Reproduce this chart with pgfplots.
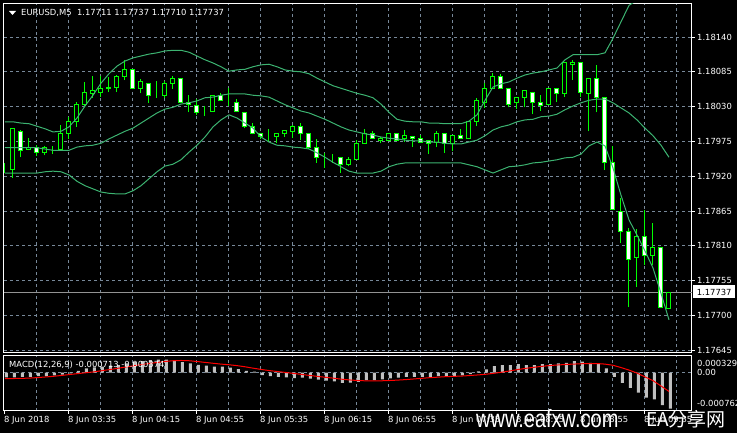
\documentclass[border=0pt]{standalone}
\usepackage{pgfplots}
\pgfplotsset{compat=1.18}
\usepackage{pgfplotstable}
\usepackage{fontspec}
\setmainfont{DejaVu Sans}
\newfontfamily\wmfont{Liberation Sans}
\newfontfamily\cjk{Noto Sans CJK SC}
\definecolor{mtlime}{HTML}{00FF00}
\definecolor{mtbb}{HTML}{3CB371}
\definecolor{mtgrid}{HTML}{778899}
\definecolor{mtsilver}{HTML}{C0C0C0}
\newcommand\lbl{\fontsize{8.4}{10}\selectfont}

% prices in points above 1.17600 (1 point = 0.00001)
\pgfplotstableread{
k O H L C
0 333 341 325 333
1 331 396 317 395
2 391 393 350 361
3 363 380 361 366
4 366 369 352 357
5 358 368 353 365
6 363 368 355 363
7 363 401 361 387
8 387 414 379 406
9 407 437 398 434
10 434 469 429 453
11 450 478 444 455
12 453 478 445 459
13 458 477 453 461
14 461 480 453 477
15 477 504 472 489
16 489 490 458 458
17 458 474 451 469
18 467 467 436 448
19 448 470 444 448
20 448 470 444 467
21 467 478 458 474
22 474 474 437 437
23 437 448 421 433
24 431 442 417 421
25 425 431 415 425
26 423 447 423 447
27 448 451 439 439
28 439 459 431 439
29 437 442 423 423
30 420 421 396 398
31 398 404 387 388
32 387 388 379 382
33 382 395 374 382
34 382 387 372 387
35 387 393 382 393
36 391 401 380 398
37 398 404 377 388
38 387 388 363 365
39 365 379 341 350
40 352 357 333 352
41 353 355 341 353
42 350 350 325 338
43 338 350 336 347
44 347 377 347 372
45 372 395 372 388
46 388 391 379 379
47 376 382 372 380
48 377 388 377 388
49 387 388 377 377
50 379 393 374 384
51 382 382 366 379
52 379 385 374 374
53 377 377 355 372
54 374 391 366 388
55 387 387 357 372
56 372 385 360 385
57 385 395 379 379
58 379 407 379 407
59 406 444 399 439
60 437 467 428 458
61 459 483 459 477
62 477 482 458 458
63 458 458 429 434
64 436 444 426 444
65 444 455 429 455
66 453 453 418 437
67 437 448 423 431
68 434 459 434 459
69 459 459 437 450
70 450 499 445 499
71 497 504 472 500
72 499 499 445 453
73 451 474 391 474
74 475 496 421 444
75 444 444 330 341
76 342 368 267 268
77 265 286 214 233
78 232 238 113 189
79 191 237 145 224
80 224 267 180 194
81 194 246 180 207
82 208 208 112 112
83 111 137 110 137
}\candles

\pgfplotstableread{
k U M L
0 406 365 325
1 406 365 325
2 404 365 325
3 403 365 325
4 399 365 325
5 395 363 327
6 390 361 328
7 391 361 327
8 398 361 322
9 412 366 312
10 431 368 305
11 448 369 300
12 467 372 295
13 482 379 293
14 494 385 292
15 502 391 292
16 507 396 297
17 510 404 305
18 513 412 316
19 515 420 327
20 518 426 336
21 519 429 339
22 519 434 346
23 516 436 358
24 510 439 369
25 504 444 382
26 499 445 398
27 493 448 409
28 486 450 417
29 488 450 412
30 489 450 404
31 493 448 396
32 496 447 382
33 497 445 374
34 493 439 369
35 488 433 368
36 486 428 366
37 485 423 365
38 482 420 363
39 475 415 357
40 469 410 350
41 463 404 342
42 459 398 335
43 455 393 328
44 451 390 325
45 448 387 325
46 444 385 325
47 434 382 328
48 421 380 335
49 410 379 339
50 407 377 341
51 406 376 341
52 406 376 341
53 404 374 341
54 404 374 341
55 403 372 341
56 403 371 341
57 403 371 341
58 407 374 338
59 417 377 335
60 440 384 330
61 461 393 325
62 466 398 330
63 469 401 335
64 475 406 336
65 480 409 338
66 483 410 341
67 485 414 342
68 488 415 344
69 491 418 346
70 504 425 349
71 512 431 350
72 512 436 355
73 512 440 368
74 512 442 374
75 515 442 368
76 538 436 333
77 564 428 290
78 590 420 251
79 598 409 227
80 606 396 202
81 611 384 175
82 617 369 135
83 622 350 93
}\bands

% MACD in units of 0.000001
\pgfplotstableread{
k H S
0 -96 -120
1 -96 -118
2 -83 -115
3 -83 -110
4 -69 -100
5 -69 -88
6 -56 -75
7 -43 -58
8 -17 -40
9 36 -22
10 83 -5
11 102 12
12 116 35
13 136 58
14 149 82
15 185 108
16 205 132
17 225 158
18 245 180
19 255 200
20 255 220
21 240 235
22 208 240
23 182 235
24 155 220
25 136 202
26 116 185
27 116 168
28 96 155
29 69 138
30 36 115
31 17 88
32 -50 63
33 -69 40
34 -83 22
35 -96 4
36 -109 -15
37 -102 -35
38 -122 -55
39 -142 -75
40 -162 -92
41 -175 -110
42 -202 -130
43 -200 -145
44 -182 -157
45 -149 -163
46 -149 -165
47 -136 -163
48 -116 -158
49 -102 -150
50 -83 -140
51 -83 -128
52 -83 -115
53 -83 -102
54 -69 -92
55 -69 -82
56 -69 -75
57 -56 -70
58 -30 -60
59 23 -48
60 63 -35
61 129 -17
62 149 5
63 149 30
64 169 58
65 149 82
66 149 102
67 169 122
68 169 138
69 182 150
70 195 160
71 228 168
72 215 175
73 195 180
74 182 180
75 83 168
76 -83 145
77 -202 100
78 -301 50
79 -400 -10
80 -499 -85
81 -532 -160
82 -645 -265
83 -713 -374
}\macd

\pgfplotsset{
  mtbase/.style={scale only axis, anchor=south west, width=688pt,
    xmin=-0.125, xmax=85.875},
  mtmain/.style={mtbase, at={(4pt,80pt)}, height=349pt, ymin=40.6, ymax=592.2},
}

\begin{document}
\begin{tikzpicture}[x=1pt,y=1pt]
\fill[black] (0,0) rectangle (737,433);
\useasboundingbox (0,0) rectangle (737,433);

% ---- main price window: frame, grid, ticks, wicks
\begin{axis}[mtmain,
  axis line style={white, line width=1pt},
  xtick={4,8,...,84}, xticklabels={}, xmajorgrids,
  x tick style={draw=none},
  ytick={45,100,...,540},
  yticklabels={1.17645,1.17700,1.17755,1.17810,1.17865,1.17920,1.17975,1.18030,1.18085,1.18140},
  ytick pos=right, yticklabel pos=right, ymajorgrids,
  y tick style={white, line width=0.8pt}, tick align=outside, major tick length=3pt,
  y tick label style={font=\lbl, text=white, anchor=west, inner sep=0pt, xshift=2pt},
  grid style={mtgrid, dash pattern=on 3pt off 3pt, line width=1pt},
  clip mode=individual,
]
\addplot[color=gray!85, line width=1pt, forget plot] coordinates {(-0.125,137) (85.875,137)};
\addplot[draw=none, mark=none, forget plot,
  error bars/.cd, y dir=plus, y explicit, error mark=none,
  error bar style={draw=mtlime, line width=1pt, solid}]
  table[x=k, y=L, y error expr={\thisrow{H}-\thisrow{L}}] {\candles};
\end{axis}

% ---- candle bodies
\begin{axis}[mtmain, hide axis, ybar stacked, bar width=0.5]
\addplot[draw=none, fill=none] table[x=k, y expr={min(\thisrow{O},\thisrow{C})}] {\candles};
\addplot[draw=mtlime, fill=white, line width=1pt] table[x=k, y expr={max(\thisrow{O}-\thisrow{C},0)}] {\candles};
\addplot[draw=mtlime, fill=black, line width=1pt] table[x=k, y expr={max(\thisrow{C}-\thisrow{O},0)}] {\candles};
\end{axis}

% ---- Bollinger bands
\begin{axis}[mtmain, hide axis]
\addplot[mtbb, line width=1pt, mark=none] table[x=k, y=U] {\bands};
\addplot[mtbb, line width=1pt, mark=none] table[x=k, y=M] {\bands};
\addplot[mtbb, line width=1pt, mark=none] table[x=k, y=L] {\bands};
\end{axis}

% ---- MACD window
\begin{axis}[mtbase, at={(4pt,22pt)}, height=55pt, ymin=-762, ymax=329,
  axis line style={white, line width=1pt},
  xtick={0,8,...,80},
  xticklabels={8 Jun 2018,8 Jun 03:35,8 Jun 04:15,8 Jun 04:55,8 Jun 05:35,8 Jun 06:15,8 Jun 06:55,8 Jun 07:35,8 Jun 08:15,8 Jun 08:55,8 Jun 09:35},
  xtick pos=left, tick align=outside, major tick length=3pt,
  x tick style={white, line width=1pt},
  minor xtick={4,8,...,84}, xminorgrids, minor tick length=0pt,
  x tick label style={font=\lbl, text=white, anchor=north west, inner sep=0pt, xshift=-1pt, yshift=-2pt},
  ytick={188,0,-605}, yticklabels={0.000329,0.00,-0.000762},
  ytick pos=right, yticklabel pos=right, y tick style={draw=none},
  y tick label style={font=\lbl, text=white, anchor=west, inner sep=0pt, xshift=2pt},
  minor grid style={mtgrid, dash pattern=on 3pt off 3pt, line width=1pt},
  clip mode=individual,
]
\addplot[mtgrid, dash pattern=on 3pt off 3pt, line width=1pt, forget plot] coordinates {(-0.125,0) (85.875,0)};
\addplot[ybar, bar width=0.375, bar shift=1.5pt, fill=mtsilver, draw=none] table[x=k, y=H] {\macd};
\addplot[red, line width=1pt, mark=none] table[x=k, y=S] {\macd};
\end{axis}

% ---- texts
\fill[white] (9,422) -- (16,422) -- (12.5,418) -- cycle;
\node[anchor=west, text=white, font=\lbl, inner sep=0pt] at (21,420.3) {EURUSD,M5\ \ 1.17711 1.17737 1.17710 1.17737};
\node[anchor=west, text=white, font=\lbl, inner sep=0pt] at (9,68.5) {MACD(12,26,9) -0.000713 -0.000374};
\node[anchor=west, fill=white, text=black, font=\lbl, inner sep=0pt, minimum height=13pt, minimum width=42pt] at (693,141) {1.17737};
\node[anchor=west, text=white, font=\wmfont\fontsize{25}{25}\selectfont, xscale=0.8, inner sep=0pt] at (476,14) {www.eafxw.com};
\node[anchor=west, text=white, font=\cjk\fontsize{19}{19}\selectfont, inner sep=0pt] at (646,14) {EA分享网};
\end{tikzpicture}
\end{document}
